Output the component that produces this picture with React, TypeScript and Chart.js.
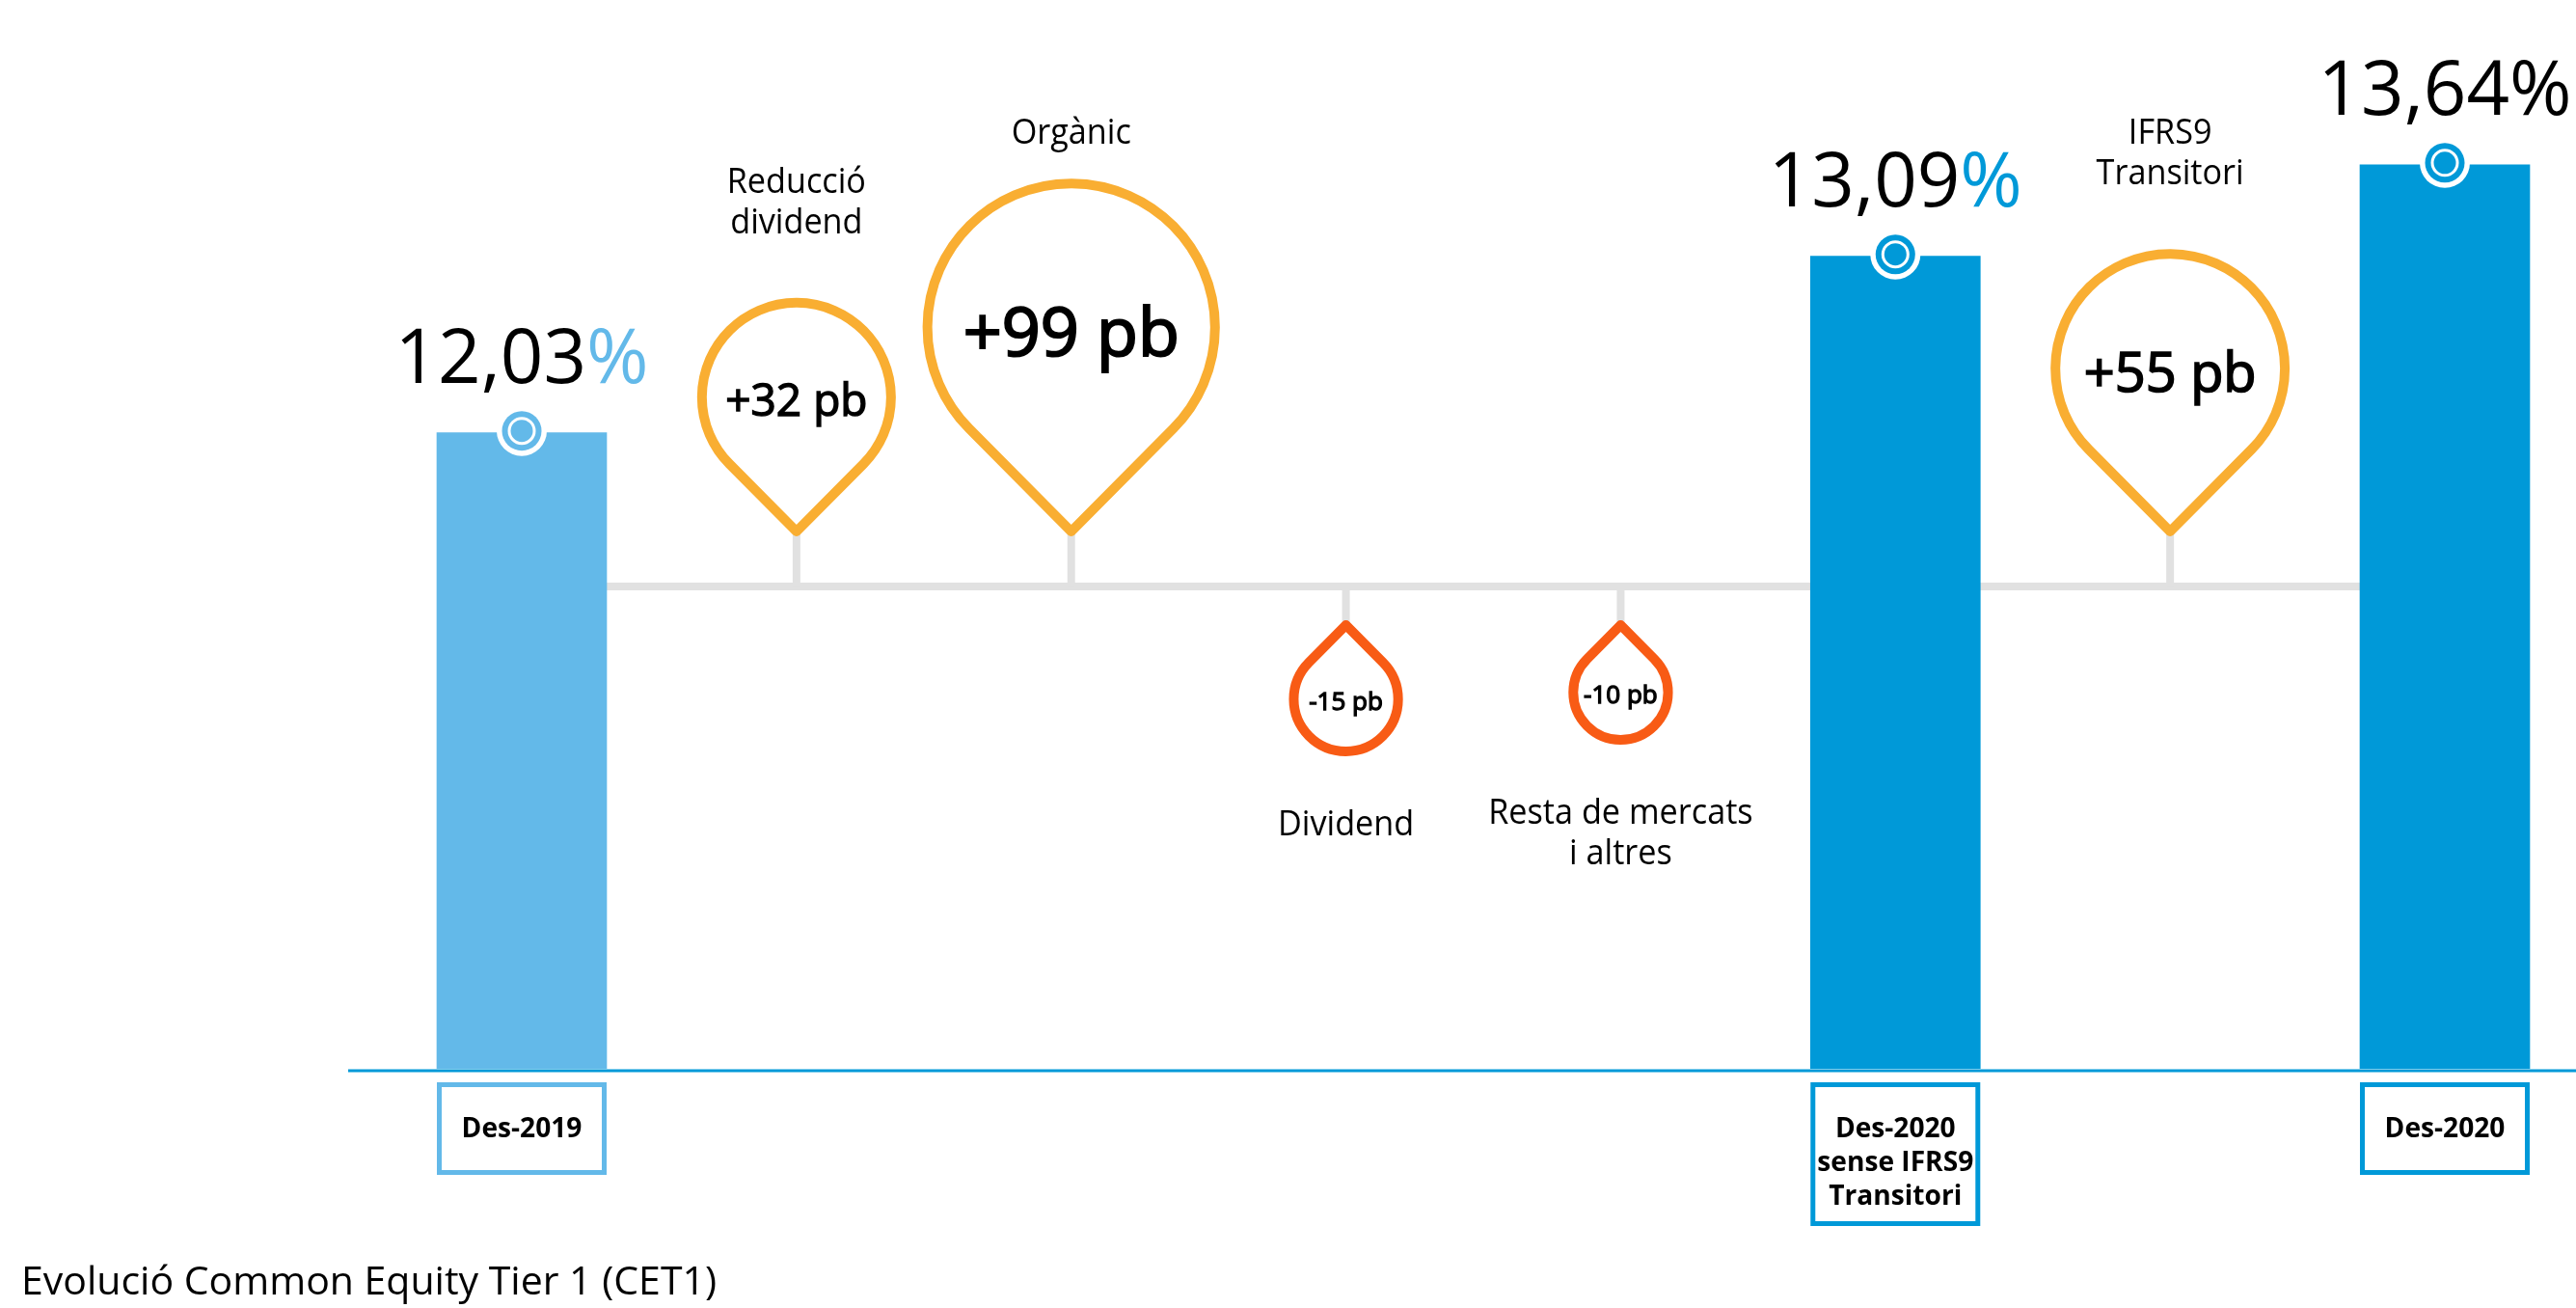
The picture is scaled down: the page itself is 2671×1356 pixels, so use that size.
import React, { useEffect, useRef } from "react";
import { Chart, registerables } from "chart.js";

Chart.register(...registerables);

// ---------------- data ----------------
const categories = [
  "Des-2019",
  "Reducció dividend",
  "Orgànic",
  "Dividend",
  "Resta de mercats i altres",
  "Des-2020 sense IFRS9 Transitori",
  "IFRS9 Transitori",
  "Des-2020",
];
const cet1Values: (number | null)[] = [12.03, null, null, null, null, 13.09, null, 13.64];
const changesBp: (number | null)[] = [null, 32, 99, -15, -10, null, 55, null];
const driverLabelLines: string[][] = [
  [],
  ["Reducció", "dividend"],
  ["Orgànic"],
  ["Dividend"],
  ["Resta de mercats", "i altres"],
  [],
  ["IFRS9", "Transitori"],
  [],
];
const periodLabelLines: string[][] = [
  ["Des-2019"],
  [],
  [],
  [],
  [],
  ["Des-2020", "sense IFRS9", "Transitori"],
  [],
  ["Des-2020"],
];
const chartTitle = "Evolució Common Equity Tier 1 (CET1)";

// ---------------- styles ----------------
const FONT = '"Open Sans", "Noto Sans", sans-serif';
const LIGHT_BLUE = "#63b9e9";
const BLUE = "#0099d8";
const ORANGE = "#f9ae32";
const RED_ORANGE = "#f85b15";
const GREY = "#e1e1e1";
const barColors = categories.map((_, i) => (i === 0 ? LIGHT_BLUE : BLUE));
const percentColors = categories.map((_, i) => (i === 0 ? LIGHT_BLUE : i === 7 ? "#000000" : BLUE));
const TEXT_SX = 0.95;

function drawText(ctx: CanvasRenderingContext2D, text: string, x: number, y: number, sx = 1) {
  ctx.save();
  ctx.translate(x, y);
  ctx.scale(sx, 1);
  ctx.fillText(text, 0, 0);
  ctx.restore();
}

function pinRadius(v: number) {
  return v > 0 ? 30.7 + 11.9 * Math.sqrt(v) : 27 + 7 * Math.sqrt(Math.abs(v));
}

const decoPlugin = {
  id: "cet1Deco",
  beforeDatasetsDraw(chart: any) {
    const { ctx, chartArea: a, scales } = chart;
    const x = scales.x;
    const greyY = a.top + (a.bottom - a.top) * 0.504;
    ctx.save();
    ctx.strokeStyle = GREY;
    ctx.lineWidth = 8;
    ctx.lineCap = "butt";
    ctx.beginPath();
    ctx.moveTo(x.getPixelForValue(0), greyY);
    ctx.lineTo(x.getPixelForValue(categories.length - 1), greyY);
    ctx.stroke();
    changesBp.forEach((v, i) => {
      if (v == null) return;
      const cx = x.getPixelForValue(i);
      const tipY = v > 0 ? greyY - 57 : greyY + 40;
      ctx.beginPath();
      ctx.moveTo(cx, greyY);
      ctx.lineTo(cx, tipY);
      ctx.stroke();
    });
    ctx.restore();
  },
  afterDatasetsDraw(chart: any) {
    const { ctx, chartArea: a, scales } = chart;
    const x = scales.x;
    const y = scales.y;
    const greyY = a.top + (a.bottom - a.top) * 0.504;
    const meta = chart.getDatasetMeta(0);

    ctx.save();
    // axis line
    ctx.strokeStyle = BLUE;
    ctx.lineWidth = 3;
    ctx.beginPath();
    ctx.moveTo(a.left - 180, a.bottom + 2);
    ctx.lineTo(chart.width, a.bottom + 2);
    ctx.stroke();

    // bar markers, values and period boxes
    cet1Values.forEach((v, i) => {
      if (v == null) return;
      const el = meta.data[i];
      const cx = el.x;
      const w = el.width;
      const my = y.getPixelForValue(v) - 2;
      const col = barColors[i];
      const circles: [number, string][] = [
        [26, "#ffffff"],
        [20.5, col],
        [14.5, "#ffffff"],
        [11.5, col],
      ];
      circles.forEach(([r, c]) => {
        ctx.fillStyle = c;
        ctx.beginPath();
        ctx.arc(cx, my, r, 0, Math.PI * 2);
        ctx.fill();
      });

      // value text
      const num = v.toFixed(2).replace(".", ",");
      ctx.font = `400 78px ${FONT}`;
      ctx.textBaseline = "alphabetic";
      ctx.textAlign = "left";
      const wNum = ctx.measureText(num).width;
      const wPct = ctx.measureText("%").width;
      const sx = cx - (wNum + wPct) / 2;
      const by = my - 50;
      ctx.fillStyle = "#000000";
      ctx.fillText(num, sx, by);
      ctx.fillStyle = percentColors[i];
      ctx.fillText("%", sx + wNum, by);

      // period box
      const lines = periodLabelLines[i];
      const top = a.bottom + 14;
      const h = Math.max(96, lines.length * 35 + 44);
      ctx.strokeStyle = col;
      ctx.lineWidth = 5;
      ctx.strokeRect(cx - w / 2 + 2.5, top + 2.5, w - 5, h - 5);
      ctx.fillStyle = "#000000";
      ctx.font = `700 29px ${FONT}`;
      ctx.textAlign = "center";
      lines.forEach((ln, k) => drawText(ctx, ln, cx, top + 57 + k * 35, 0.97));
    });

    // pins
    changesBp.forEach((v, i) => {
      if (v == null) return;
      const pos = v > 0;
      const cx = x.getPixelForValue(i);
      const r = pinRadius(v);
      const d = 1.42 * r;
      const tipY = pos ? greyY - 57 : greyY + 40;
      const cy = pos ? tipY - d : tipY + d;
      const alpha = Math.acos(r / d);
      ctx.beginPath();
      ctx.moveTo(cx, tipY);
      if (pos) ctx.arc(cx, cy, r, Math.PI / 2 + alpha, Math.PI / 2 - alpha, false);
      else ctx.arc(cx, cy, r, -Math.PI / 2 + alpha, -Math.PI / 2 - alpha, false);
      ctx.closePath();
      ctx.fillStyle = "#ffffff";
      ctx.fill();
      ctx.lineJoin = "round";
      ctx.lineWidth = 10;
      ctx.strokeStyle = pos ? ORANGE : RED_ORANGE;
      ctx.stroke();

      // value inside (regular weight, slightly emboldened)
      const fs = pos ? 0.47 * r : 26;
      ctx.font = `400 ${fs}px ${FONT}`;
      ctx.fillStyle = "#000000";
      ctx.strokeStyle = "#000000";
      ctx.lineWidth = pos ? fs * 0.03 : fs * 0.05;
      ctx.lineJoin = "miter";
      ctx.textAlign = "center";
      ctx.textBaseline = "alphabetic";
      const label = `${pos ? "+" : ""}${v} pb`;
      const ty = cy + 0.36 * fs + 0.03 * r;
      ctx.fillText(label, cx, ty);
      ctx.strokeText(label, cx, ty);

      // driver label
      const lines = driverLabelLines[i];
      ctx.font = `400 36px ${FONT}`;
      if (pos) {
        const last = cy - r - 5 - (36 + 31 * (lines.length - 1));
        lines.forEach((ln, k) => drawText(ctx, ln, cx, last - (lines.length - 1 - k) * 42, TEXT_SX));
      } else {
        const first = cy + r + 5 + 82;
        lines.forEach((ln, k) => drawText(ctx, ln, cx, first + k * 42, TEXT_SX));
      }
    });

    // title
    ctx.font = `400 41px ${FONT}`;
    ctx.textAlign = "left";
    ctx.fillStyle = "#000000";
    drawText(ctx, chartTitle, 22, chart.height - 14, 1);
    ctx.restore();
  },
};

export default function App() {
  const ref = useRef<HTMLCanvasElement>(null);
  useEffect(() => {
    const chart = new Chart(ref.current as HTMLCanvasElement, {
      type: "bar",
      data: {
        labels: categories,
        datasets: [
          {
            data: cet1Values as any,
            backgroundColor: barColors,
            borderWidth: 0,
            barThickness: 176,
            clip: { left: 120, right: 120, top: 100, bottom: 0 } as any,
          },
        ],
      },
      options: {
        animation: false,
        responsive: false,
        devicePixelRatio: 1,
        layout: { padding: { left: 541, right: 136, top: 100, bottom: 248 } },
        plugins: {
          legend: { display: false },
          tooltip: { enabled: false },
          title: { display: false },
        },
        scales: {
          x: { display: false, offset: false, grid: { offset: false } },
          y: { display: false, min: 8.21, max: 14.05 },
        },
      },
      plugins: [decoPlugin],
    });
    return () => chart.destroy();
  }, []);
  return (
    <div style={{ position: "fixed", left: 0, top: 0, width: 2671, height: 1356, background: "#ffffff" }}>
      <canvas ref={ref} width={2671} height={1356} style={{ display: "block", width: 2671, height: 1356 }} />
    </div>
  );
}
